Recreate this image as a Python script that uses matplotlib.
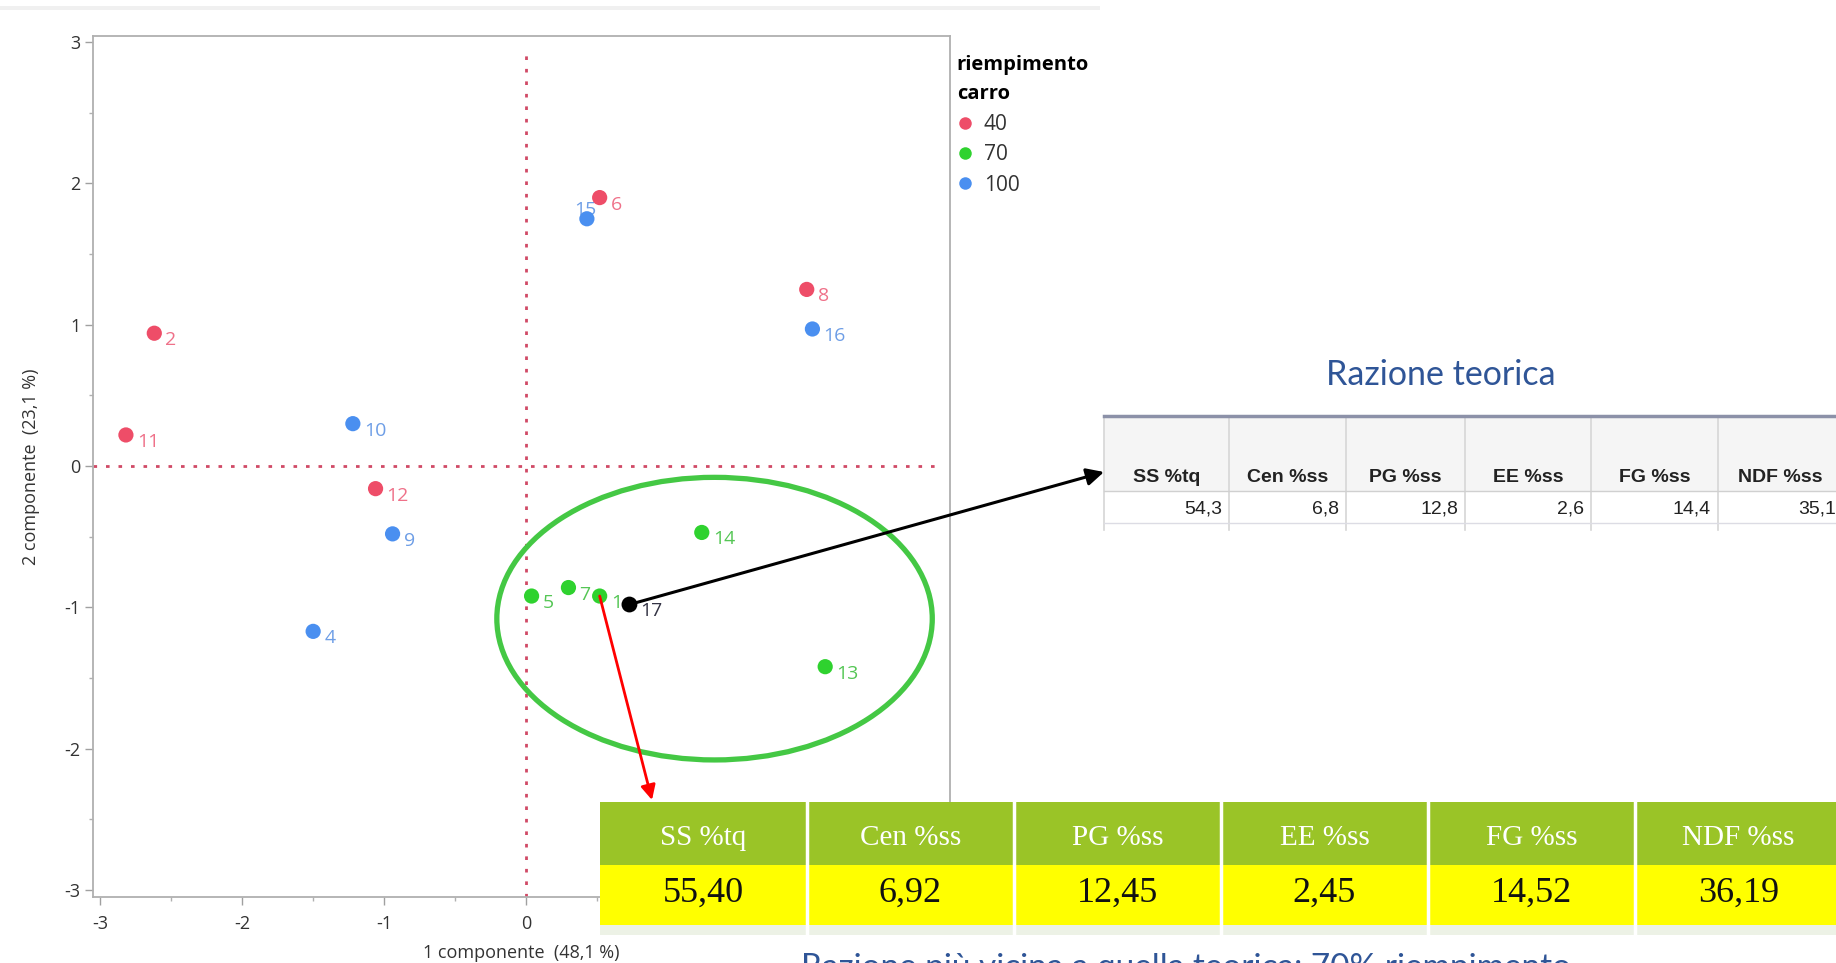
import matplotlib
matplotlib.use("Agg")
import matplotlib.pyplot as plt
from matplotlib.patches import Ellipse, Rectangle, ConnectionPatch
from matplotlib.lines import Line2D
from matplotlib.ticker import MultipleLocator

# PCA scores (1 componente, 2 componente) per livello di riempimento carro
ids_40 = ["2", "6", "8", "11", "12"]
pc1_40 = [-2.62, 0.52, 1.98, -2.82, -1.06]
pc2_40 = [0.94, 1.90, 1.25, 0.22, -0.16]

ids_70 = ["1", "5", "7", "13", "14"]
pc1_70 = [0.52, 0.04, 0.30, 2.11, 1.24]
pc2_70 = [-0.92, -0.92, -0.86, -1.42, -0.47]

ids_100 = ["4", "9", "10", "15", "16"]
pc1_100 = [-1.50, -0.94, -1.22, 0.43, 2.02]
pc2_100 = [-1.17, -0.48, 0.30, 1.75, 0.97]

id_teo = "17"
pc1_teo = 0.73
pc2_teo = -0.98

# tables
columns = ["SS %tq", "Cen %ss", "PG %ss", "EE %ss", "FG %ss", "NDF %ss"]
razione_teorica = ["54,3", "6,8", "12,8", "2,6", "14,4", "35,1"]
razione_70 = ["55,40", "6,92", "12,45", "2,45", "14,52", "36,19"]

plt.rcParams["font.family"] = ["Open Sans", "DejaVu Sans"]
plt.rcParams["axes.unicode_minus"] = False

RED, GREEN, BLUE = "#ee4d68", "#2fd22f", "#4a8ff0"
RED_T, GREEN_T, BLUE_T = "#ef7189", "#55c655", "#6e9ee6"

fig = plt.figure(figsize=(18.36, 9.63), dpi=100)
W, H = 1836, 963

# main score plot
ax = fig.add_axes([93.3 / W, 1 - 897 / H, (950 - 93.3) / W, (897 - 36.5) / H])
ax.set_xlim(-3.05, 2.99)
ax.set_ylim(-3.05, 3.04)
for s in ax.spines.values():
    s.set_color("#b0b0b0")
    s.set_linewidth(1.3)
ax.xaxis.set_major_locator(MultipleLocator(1))
ax.yaxis.set_major_locator(MultipleLocator(1))
ax.xaxis.set_minor_locator(MultipleLocator(0.5))
ax.yaxis.set_minor_locator(MultipleLocator(0.5))
ax.tick_params(which="major", length=6, width=1, color="#a0a0a0",
               labelsize=13, labelcolor="#333333", pad=3)
ax.tick_params(which="minor", length=3, width=1, color="#b0b0b0")
ax.tick_params(axis="x", pad=7)
ax.set_xlabel("1 componente  (48,1 %)", fontsize=13, color="#333333", labelpad=8)
ax.set_ylabel("2 componente  (23,1 %)", fontsize=13, color="#333333", labelpad=18)

dot = (0, (1.3, 3.2))
ax.axvline(0, ymin=0, ymax=0.987, color="#d04a66", lw=2.0, ls=dot, zorder=1)
ax.axhline(0, xmin=0, xmax=0.99, color="#d04a66", lw=2.0, ls=dot, zorder=1)

ax.add_patch(Ellipse((1.33, -1.08), 3.07, 2.00, fill=False,
                     edgecolor="#44c844", lw=3.8, zorder=2))

groups = [(ids_40, pc1_40, pc2_40, RED, RED_T),
          (ids_70, pc1_70, pc2_70, GREEN, GREEN_T),
          (ids_100, pc1_100, pc2_100, BLUE, BLUE_T)]
for ids, xs, ys, c, ct in groups:
    for lab, x, y in zip(ids, xs, ys):
        if lab == "15":
            ax.annotate(lab, (x, y), xytext=(-1, 6), textcoords="offset points",
                        ha="center", va="center", fontsize=14, color=ct, zorder=2)
        else:
            ax.annotate(lab, (x, y), xytext=(8, -5), textcoords="offset points",
                        ha="left", va="center", fontsize=14, color=ct, zorder=2)
    ax.scatter(xs, ys, s=120, color=c, edgecolors="none", zorder=3)

ax.scatter([pc1_teo], [pc2_teo], s=130, color="black", edgecolors="none", zorder=4)
ax.annotate(id_teo, (pc1_teo, pc2_teo), xytext=(8, -5), textcoords="offset points",
            ha="left", va="center", fontsize=14, color="#333344", zorder=4)

handles = [Line2D([], [], ls="none", marker="o", ms=9, color=c, mec="none")
           for c in (RED, GREEN, BLUE)]
leg = ax.legend(handles, ["40", "70", "100"], title="riempimento\ncarro",
                loc="upper left", bbox_to_anchor=(1.008, 0.978), frameon=False,
                fontsize=15, title_fontproperties={"weight": "bold", "size": 14.5},
                alignment="left", handlelength=0.8, handletextpad=0.5,
                labelspacing=0.45, borderaxespad=0, borderpad=0)
leg.get_title().set_linespacing(1.6)
for t in leg.get_texts():
    t.set_color("#333333")

# overlay in pixel coordinates for the tables and notes
ov = fig.add_axes([0, 0, 1, 1], zorder=5)
ov.set_xlim(0, W)
ov.set_ylim(H, 0)
ov.axis("off")
ov.patch.set_alpha(0)

ov.add_patch(Rectangle((0, 6), 1100, 4, color="#f0f0f0", lw=0))

# "Razione teorica" table
title_font = ["Lato", "DejaVu Sans"]
ov.text(1441, 375, "Razione teorica", ha="center", va="center", fontsize=24.5,
        color="#2f5597", family=title_font)
col_w = [125, 117, 119, 126, 127, 125]
x = 1104
for name, val, w in zip(columns, razione_teorica, col_w):
    ov.add_patch(Rectangle((x, 418), w, 73, facecolor="#f5f5f5", edgecolor="none"))
    ov.plot([x, x], [418, 530], color="#d6d6d6", lw=1.2)
    ov.text(x + w / 2, 482, name, ha="center", va="baseline", fontsize=14,
            weight="bold", color="#222222",
            family=["Liberation Sans Narrow", "Liberation Sans"])
    ov.text(x + w - 7, 514, val, ha="right", va="baseline", fontsize=14,
            color="#222222", family=["Liberation Sans Narrow", "Liberation Sans"])
    x += w
ov.plot([1104, W], [416, 416], color="#8c91a8", lw=2.5)
ov.plot([1104, W], [491, 491], color="#d0d0d0", lw=1)
ov.plot([1104, W], [523, 523], color="#dcdce4", lw=1)

# measured ration at 70 % filling
x = 600
cw = 207
for name, val in zip(columns, razione_70):
    ov.add_patch(Rectangle((x, 802), cw, 63, facecolor="#9ac427", edgecolor="none"))
    ov.add_patch(Rectangle((x, 865), cw, 60, facecolor="#ffff00", edgecolor="none"))
    ov.add_patch(Rectangle((x, 925), cw, 10, facecolor="#edf2e6", edgecolor="none"))
    ov.text(x + cw / 2, 838, name, ha="center", va="center", fontsize=21,
            color="white", family=["Liberation Serif", "DejaVu Serif"])
    ov.text(x + cw / 2, 893, val, ha="center", va="center", fontsize=26,
            color="#111111", family=["Liberation Serif", "DejaVu Serif"])
    if x > 600:
        ov.plot([x, x], [802, 935], color="white", lw=2.5)
    x += cw

ov.text(801, 953, "Razione più vicina a quella teorica: 70% riempimento",
        ha="left", va="top", fontsize=24, color="#2f5597", family=title_font)

# arrows
a1 = ConnectionPatch(xyA=(pc1_teo, pc2_teo), coordsA=ax.transData,
                     xyB=(1104, 472), coordsB=ov.transData,
                     arrowstyle="-|>", mutation_scale=26, lw=2.2,
                     color="black", shrinkA=0, shrinkB=0, zorder=10)
ov.add_artist(a1)
a2 = ConnectionPatch(xyA=(pc1_70[0], pc2_70[0]), coordsA=ax.transData,
                     xyB=(652, 800), coordsB=ov.transData,
                     arrowstyle="-|>", mutation_scale=22, lw=2.0,
                     color="red", shrinkA=0, shrinkB=0, zorder=10)
ov.add_artist(a2)

fig.savefig("out.png", dpi=100)
